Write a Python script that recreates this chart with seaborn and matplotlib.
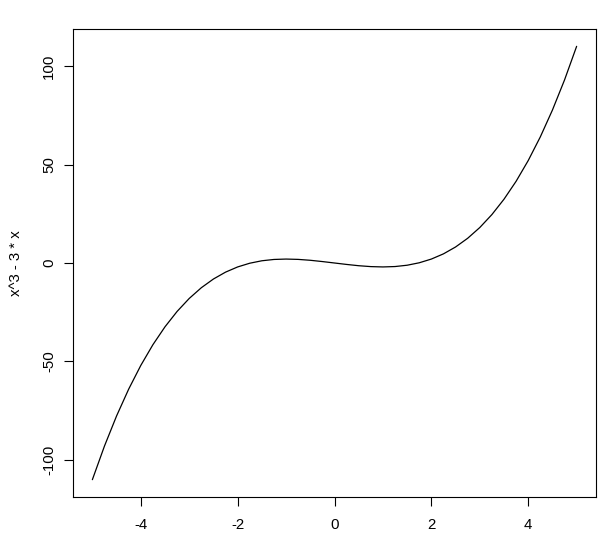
import matplotlib
matplotlib.use("Agg")
import matplotlib.pyplot as plt
import seaborn as sns
import pandas as pd

x_vals = [-5.0, -4.75, -4.5, -4.25, -4.0, -3.75, -3.5, -3.25, -3.0, -2.75, -2.5,
          -2.25, -2.0, -1.75, -1.5, -1.25, -1.0, -0.75, -0.5, -0.25, 0.0,
          0.25, 0.5, 0.75, 1.0, 1.25, 1.5, 1.75, 2.0, 2.25, 2.5,
          2.75, 3.0, 3.25, 3.5, 3.75, 4.0, 4.25, 4.5, 4.75, 5.0]
y_vals = [-110.0, -92.92, -77.63, -64.02, -52.0, -41.48, -32.38, -24.58, -18.0, -12.55, -8.13,
          -4.64, -2.0, -0.11, 1.13, 1.80, 2.0, 1.83, 1.38, 0.73, 0.0,
          -0.73, -1.38, -1.83, -2.0, -1.80, -1.13, 0.11, 2.0, 4.64, 8.13,
          12.55, 18.0, 24.58, 32.38, 41.48, 52.0, 64.02, 77.63, 92.92, 110.0]
x_ticks = [-4, -2, 0, 2, 4]
y_ticks = [-100, -50, 0, 50, 100]
y_label = "x^3 - 3 * x"

sns.set_style("white")
plt.rcParams['font.family'] = ['Liberation Sans', 'DejaVu Sans']
plt.rcParams['text.color'] = 'black'
plt.rcParams['xtick.color'] = 'black'
plt.rcParams['ytick.color'] = 'black'
plt.rcParams['axes.labelcolor'] = 'black'

FS = 10.8
fig = plt.figure(figsize=(6.12, 5.41), dpi=100)
ax = fig.add_axes([73/612, 44/541, 523/612, 468/541])
df = pd.DataFrame({"x": x_vals, "y": y_vals})
sns.lineplot(data=df, x="x", y="y", sort=False, color="black", linewidth=0.9, ax=ax)

ax.set_xlim(-5.4, 5.4)
ax.set_ylim(-118.8, 118.8)
ax.set_xticks(x_ticks)
ax.set_xticklabels([str(t) for t in x_ticks], fontsize=FS)
ax.set_yticks(y_ticks)
ax.set_yticklabels([str(t) for t in y_ticks], fontsize=FS, rotation=90, va="center")
ax.tick_params(axis="both", direction="out", length=6.5, width=0.8, colors="black",
               bottom=True, left=True)
ax.tick_params(axis="x", pad=8.5)
ax.tick_params(axis="y", pad=5.5)
ax.set_xlabel("")
ax.set_ylabel(y_label, fontsize=FS, labelpad=14)
for s in ax.spines.values():
    s.set_color("black")
    s.set_linewidth(0.8)
    s.set_visible(True)

fig.savefig("out.png", dpi=100, facecolor="white")
